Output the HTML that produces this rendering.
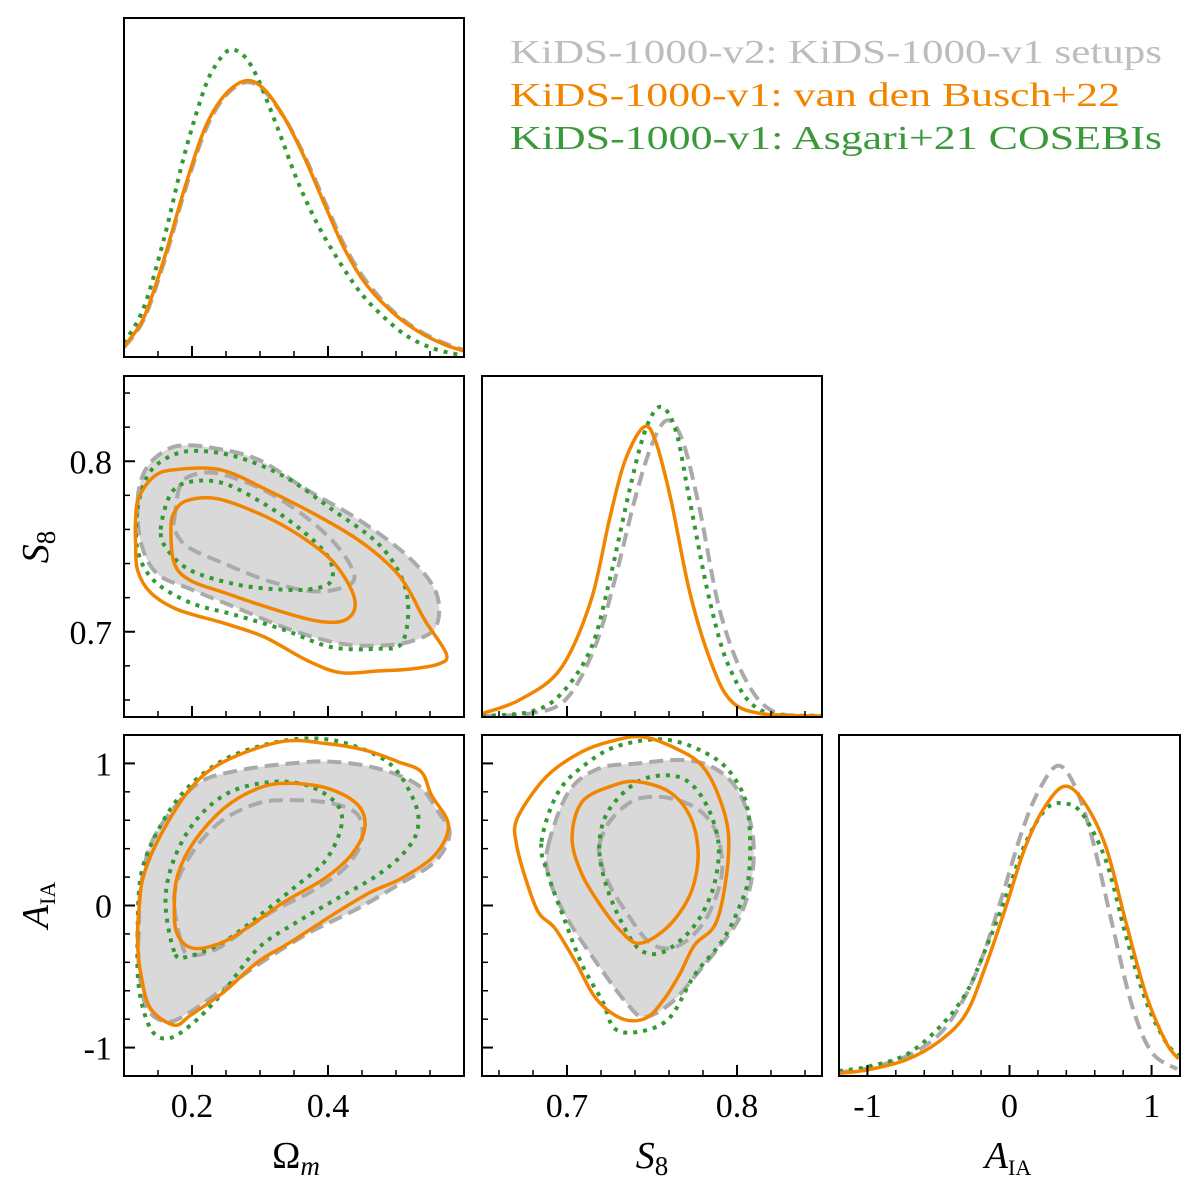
<!DOCTYPE html>
<html><head><meta charset="utf-8">
<style>
html,body{margin:0;padding:0;background:#fff;}
svg{display:block;font-family:"Liberation Serif","DejaVu Serif",serif;}
</style></head>
<body>
<svg id="fig" width="1200" height="1189" viewBox="0 0 1200 1189" xmlns="http://www.w3.org/2000/svg">
<g id="legend" font-size="34">
  <text x="510" y="63" fill="#bdbdbd" textLength="652" lengthAdjust="spacingAndGlyphs">KiDS-1000-v2: KiDS-1000-v1 setups</text>
  <text x="510" y="106" fill="#f28500" textLength="610" lengthAdjust="spacingAndGlyphs">KiDS-1000-v1: van den Busch+22</text>
  <text x="510" y="149" fill="#3a993a" textLength="652" lengthAdjust="spacingAndGlyphs">KiDS-1000-v1: Asgari+21 COSEBIs</text>
</g>
</svg>
<script>
// ---- axes ranges ----
const omRange=[0.1,0.6], s8Range=[0.65,0.85], aRange=[-1.2,1.2];
// ---- 1D marginals ----
const omX_or=[0.1,0.129,0.159,0.188,0.218,0.247,0.279,0.306,0.336,0.365,0.395,0.424,0.454,0.493,0.532,0.572,0.601];
const omP_or=[0.031,0.115,0.29,0.49,0.67,0.77,0.815,0.79,0.705,0.59,0.45,0.32,0.22,0.135,0.076,0.036,0.017];
const omP_gr=[0.028,0.11,0.28,0.48,0.66,0.765,0.81,0.785,0.705,0.595,0.46,0.33,0.23,0.14,0.08,0.04,0.02];
const omX_gn=[0.1,0.129,0.159,0.188,0.218,0.238,0.256,0.277,0.297,0.326,0.355,0.385,0.414,0.444,0.473,0.513,0.552,0.591];
const omP_gn=[0.041,0.145,0.35,0.59,0.79,0.87,0.906,0.887,0.82,0.675,0.52,0.39,0.29,0.20,0.135,0.066,0.027,0.007];
const s8X_or=[0.65,0.672,0.696,0.714,0.725,0.734,0.745,0.752,0.761,0.772,0.784,0.796,0.814,0.85];
const s8P_or=[0.01,0.05,0.14,0.34,0.58,0.75,0.85,0.81,0.64,0.37,0.17,0.05,0.01,0.003];
const s8X_gn=[0.65,0.678,0.696,0.714,0.725,0.737,0.746,0.755,0.764,0.772,0.784,0.796,0.814,0.85];
const s8P_gn=[0.003,0.015,0.065,0.20,0.40,0.67,0.84,0.91,0.84,0.64,0.34,0.14,0.02,0.003];
const s8X_gr=[0.65,0.678,0.699,0.716,0.728,0.740,0.750,0.759,0.768,0.778,0.790,0.805,0.822,0.85];
const s8P_gr=[0.003,0.01,0.05,0.20,0.40,0.64,0.80,0.87,0.81,0.61,0.31,0.11,0.015,0.003];
const aX_or=[-1.2,-1.0,-0.73,-0.50,-0.31,-0.17,-0.03,0.11,0.25,0.39,0.53,0.68,0.82,0.96,1.10,1.19];
const aP_or=[0.008,0.018,0.047,0.10,0.18,0.32,0.49,0.67,0.79,0.85,0.80,0.67,0.45,0.24,0.10,0.05];
const aX_gr=[-1.2,-1.0,-0.73,-0.50,-0.33,-0.19,-0.05,0.09,0.21,0.34,0.46,0.58,0.72,0.86,1.00,1.18];
const aP_gr=[0.011,0.022,0.057,0.12,0.22,0.35,0.53,0.72,0.84,0.91,0.85,0.70,0.45,0.21,0.07,0.02];
const aX_gn=[-1.2,-1.0,-0.73,-0.50,-0.31,-0.17,-0.03,0.11,0.25,0.37,0.51,0.68,0.82,0.96,1.10,1.19];
const aP_gn=[0.015,0.027,0.062,0.14,0.24,0.37,0.52,0.68,0.78,0.80,0.77,0.63,0.41,0.22,0.10,0.06];
// ---- 2D contours: Omega_m vs S8 ----
const c10_gr95=[[0.120,0.777],[0.129,0.793],[0.149,0.803],[0.179,0.809],[0.228,0.808],[0.297,0.801],[0.370,0.783],[0.444,0.766],[0.518,0.744],[0.559,0.723],[0.559,0.703],[0.527,0.695],[0.483,0.692],[0.419,0.693],[0.346,0.701],[0.272,0.713],[0.198,0.725],[0.149,0.734],[0.125,0.752]];
const c10_gr68=[[0.174,0.766],[0.184,0.787],[0.213,0.793],[0.247,0.792],[0.306,0.783],[0.365,0.768],[0.414,0.750],[0.439,0.732],[0.414,0.725],[0.370,0.724],[0.311,0.730],[0.247,0.740],[0.193,0.750],[0.174,0.760]];
const c10_or95=[[0.117,0.766],[0.122,0.779],[0.144,0.791],[0.174,0.795],[0.242,0.795],[0.311,0.783],[0.385,0.768],[0.444,0.754],[0.493,0.738],[0.518,0.725],[0.542,0.707],[0.574,0.687],[0.562,0.681],[0.518,0.678],[0.473,0.677],[0.419,0.676],[0.370,0.683],[0.306,0.697],[0.247,0.705],[0.179,0.713],[0.139,0.723],[0.120,0.736],[0.117,0.752]];
const c10_or68=[[0.169,0.760],[0.174,0.770],[0.193,0.777],[0.238,0.778],[0.306,0.768],[0.360,0.756],[0.405,0.742],[0.434,0.725],[0.439,0.713],[0.419,0.706],[0.375,0.707],[0.306,0.715],[0.247,0.723],[0.198,0.730],[0.174,0.740]];
const c10_gn95=[[0.120,0.772],[0.134,0.791],[0.159,0.801],[0.198,0.806],[0.262,0.803],[0.336,0.791],[0.405,0.772],[0.473,0.752],[0.508,0.732],[0.518,0.713],[0.508,0.693],[0.473,0.690],[0.405,0.691],[0.336,0.701],[0.262,0.710],[0.198,0.717],[0.144,0.730],[0.120,0.748]];
const c10_gn68=[[0.154,0.760],[0.169,0.781],[0.198,0.788],[0.247,0.787],[0.306,0.775],[0.360,0.760],[0.400,0.744],[0.405,0.730],[0.375,0.725],[0.321,0.725],[0.262,0.728],[0.198,0.736],[0.164,0.748]];
// ---- Omega_m vs A_IA ----
const c20_gr95=[[0.125,0.144],[0.139,0.425],[0.169,0.660],[0.213,0.871],[0.272,0.954],[0.346,1.000],[0.405,1.012],[0.473,0.965],[0.532,0.848],[0.562,0.660],[0.579,0.508],[0.557,0.308],[0.503,0.144],[0.444,-0.021],[0.375,-0.185],[0.311,-0.373],[0.247,-0.584],[0.198,-0.748],[0.164,-0.819],[0.134,-0.725],[0.122,-0.443],[0.122,-0.115]];
const c20_gr68=[[0.184,-0.255],[0.174,0.073],[0.198,0.355],[0.242,0.590],[0.297,0.719],[0.346,0.742],[0.405,0.719],[0.444,0.637],[0.449,0.449],[0.424,0.261],[0.375,0.097],[0.326,-0.021],[0.287,-0.138],[0.238,-0.302],[0.198,-0.349]];
const c20_or95=[[0.122,-0.021],[0.129,0.214],[0.154,0.496],[0.198,0.824],[0.247,1.012],[0.331,1.153],[0.395,1.141],[0.454,1.094],[0.503,1.012],[0.537,0.942],[0.552,0.777],[0.577,0.566],[0.557,0.355],[0.508,0.191],[0.464,0.097],[0.414,-0.044],[0.346,-0.255],[0.297,-0.396],[0.247,-0.608],[0.198,-0.772],[0.174,-0.842],[0.139,-0.725],[0.125,-0.490],[0.120,-0.255]];
const c20_or68=[[0.174,-0.021],[0.179,0.214],[0.203,0.449],[0.247,0.684],[0.297,0.824],[0.341,0.860],[0.400,0.824],[0.444,0.707],[0.454,0.543],[0.434,0.355],[0.395,0.191],[0.336,0.026],[0.287,-0.138],[0.247,-0.255],[0.203,-0.302],[0.179,-0.208]];
const c20_gn95=[[0.120,-0.208],[0.125,0.214],[0.149,0.519],[0.188,0.801],[0.242,1.012],[0.306,1.130],[0.375,1.177],[0.434,1.130],[0.493,0.989],[0.527,0.731],[0.532,0.543],[0.513,0.378],[0.473,0.214],[0.414,0.050],[0.355,-0.115],[0.297,-0.302],[0.242,-0.631],[0.198,-0.842],[0.164,-0.936],[0.139,-0.866],[0.122,-0.584]];
const c20_gn68=[[0.174,-0.326],[0.161,0.026],[0.174,0.331],[0.208,0.613],[0.257,0.801],[0.321,0.871],[0.375,0.836],[0.414,0.707],[0.419,0.543],[0.395,0.308],[0.355,0.144],[0.306,-0.044],[0.247,-0.255],[0.193,-0.361]];
// ---- S8 vs A_IA ----
const c21_gr95=[[0.689,0.425],[0.701,0.801],[0.719,0.965],[0.742,1.000],[0.768,1.024],[0.787,0.965],[0.801,0.801],[0.809,0.519],[0.809,0.214],[0.803,-0.044],[0.795,-0.208],[0.779,-0.443],[0.762,-0.678],[0.746,-0.784],[0.736,-0.701],[0.717,-0.396],[0.699,-0.068],[0.689,0.214]];
const c21_gr68=[[0.719,0.425],[0.725,0.590],[0.738,0.731],[0.752,0.766],[0.768,0.731],[0.781,0.637],[0.789,0.472],[0.791,0.214],[0.783,-0.068],[0.772,-0.232],[0.760,-0.302],[0.748,-0.255],[0.736,-0.068],[0.725,0.144],[0.720,0.308]];
const c21_or95=[[0.670,0.590],[0.679,0.777],[0.691,0.942],[0.709,1.083],[0.725,1.153],[0.744,1.188],[0.764,1.106],[0.779,0.989],[0.789,0.777],[0.795,0.496],[0.793,0.144],[0.787,-0.138],[0.775,-0.279],[0.766,-0.490],[0.756,-0.678],[0.746,-0.795],[0.732,-0.795],[0.717,-0.654],[0.705,-0.396],[0.693,-0.162],[0.683,-0.044],[0.675,0.214],[0.670,0.449]];
const c21_or68=[[0.703,0.472],[0.709,0.731],[0.728,0.848],[0.742,0.871],[0.760,0.801],[0.772,0.637],[0.777,0.402],[0.775,0.167],[0.768,-0.021],[0.756,-0.185],[0.742,-0.267],[0.732,-0.185],[0.721,-0.021],[0.709,0.214]];
const c21_gn95=[[0.685,0.449],[0.695,0.801],[0.713,1.012],[0.732,1.130],[0.760,1.165],[0.787,1.036],[0.801,0.848],[0.807,0.613],[0.807,0.214],[0.801,-0.021],[0.791,-0.255],[0.775,-0.490],[0.760,-0.795],[0.742,-0.889],[0.728,-0.866],[0.721,-0.678],[0.709,-0.420],[0.699,-0.115],[0.689,0.214]];
const c21_gn68=[[0.719,0.402],[0.723,0.637],[0.736,0.824],[0.750,0.907],[0.768,0.895],[0.781,0.731],[0.789,0.449],[0.787,0.167],[0.779,-0.068],[0.768,-0.232],[0.754,-0.338],[0.742,-0.302],[0.732,-0.115],[0.723,0.144]];

const NS='http://www.w3.org/2000/svg';
const svg=document.getElementById('fig');
const COL={or:'#f28500',gr:'#aaaaaa',gn:'#339933',fill:'#d9d9d9'};
function mk(tag,attrs,parent){const e=document.createElementNS(NS,tag);for(const k in attrs)e.setAttribute(k,attrs[k]);(parent||svg).appendChild(e);return e;}
function scale(d0,d1,p0,p1){return v=>p0+(v-d0)/(d1-d0)*(p1-p0);}
function smoothPath(pts,closed){
  const n=pts.length;let d='M'+pts[0][0].toFixed(1)+','+pts[0][1].toFixed(1);
  const get=i=>closed?pts[(i+n)%n]:pts[Math.max(0,Math.min(n-1,i))];
  const last=closed?n:n-1;
  for(let i=0;i<last;i++){const p0=get(i-1),p1=get(i),p2=get(i+1),p3=get(i+2);
    const c1=[p1[0]+(p2[0]-p0[0])/6,p1[1]+(p2[1]-p0[1])/6],c2=[p2[0]-(p3[0]-p1[0])/6,p2[1]-(p3[1]-p1[1])/6];
    d+='C'+c1[0].toFixed(1)+','+c1[1].toFixed(1)+' '+c2[0].toFixed(1)+','+c2[1].toFixed(1)+' '+p2[0].toFixed(1)+','+p2[1].toFixed(1);}
  return d+(closed?'Z':'');
}
const STY={or:{stroke:COL.or,'stroke-width':3.5},gr:{stroke:COL.gr,'stroke-width':4,'stroke-dasharray':'14 7'},gn:{stroke:COL.gn,'stroke-width':4,'stroke-dasharray':'4 6'}};
function panel(name,x0,y0,w,h,xr,yr){
  const g=mk('g',{});
  
  
  const cid='clip-'+name;
  const cp=mk('clipPath',{id:cid},g);mk('rect',{x:x0,y:y0,width:w,height:h},cp);
  const inner=mk('g',{'clip-path':'url(#'+cid+')'},g);
  return {g,inner,sx:scale(xr[0],xr[1],x0,x0+w),sy:scale(yr[0],yr[1],y0+h,y0),x0,y0,w,h};
}
function frame(p){const r=mk('rect',{x:p.x0,y:p.y0,width:p.w,height:p.h,fill:'none',stroke:'#000','stroke-width':2},p.g);
  }
function curve1d(p,xs,ys,key,name){
  const pts=xs.map((v,i)=>[p.sx(v),p.sy(ys[i])]);
  const e=mk('path',Object.assign({d:smoothPath(pts,false),fill:'none','stroke-linecap':'butt'},STY[key]),p.inner);
  
}
function contour(p,arr,key,name,fill){
  const pts=arr.map(q=>[p.sx(q[0]),p.sy(q[1])]);
  const d=smoothPath(pts,true);
  if(fill){const f=mk('path',{d,fill:COL.fill,stroke:'none'},p.inner);
    }
  return {d,key,name};
}
function drawLines(p,list){list.forEach(c=>{const e=mk('path',Object.assign({d:c.d,fill:'none'},STY[c.key]),p.inner);
  });}
function ticks(p,axis,vals,majors,labels,fs){
  vals.forEach(v=>{const maj=majors.includes(v);const L=maj?11:6;
    if(axis==='x'){const x=p.sx(v);const t=mk('line',{x1:x,x2:x,y1:p.y0+p.h,y2:p.y0+p.h-L,stroke:'#000','stroke-width':maj?2:1.5},p.g);
      }
    else{const y=p.sy(v);const t=mk('line',{x1:p.x0,x2:p.x0+L,y1:y,y2:y,stroke:'#000','stroke-width':maj?2:1.5},p.g);
      }
  });
  if(labels){majors.forEach((v,i)=>{let t;
    if(axis==='x'){t=mk('text',{x:p.sx(v),y:p.y0+p.h+41,'text-anchor':'middle','font-size':fs||34},p.g);}
    else{t=mk('text',{x:p.x0-12,y:p.sy(v)+12,'text-anchor':'end','font-size':fs||34},p.g);}
    t.textContent=labels[i];
    });}
}
function rng(a,b,s){const o=[];for(let v=a;v<=b+1e-9;v+=s)o.push(Math.round(v*1000)/1000);return o;}
const omT=rng(0.15,0.55,0.05), s8T=rng(0.66,0.84,0.02), aT=rng(-1.0,1.0,0.2);

const P00=panel('omega-m-marginal',124,18,340,339,omRange,[0,1]);
curve1d(P00,omX_or,omP_gr,'gr','gray-omega-marginal');
curve1d(P00,omX_gn,omP_gn,'gn','green-omega-marginal');
curve1d(P00,omX_or,omP_or,'or','orange-omega-marginal');
ticks(P00,'x',omT,[0.2,0.4]);frame(P00);

const P10=panel('omega-s8-contours',124,376,340,341,omRange,s8Range);
contour(P10,c10_gr95,'gr','gray-95',true);contour(P10,c10_gr68,'gr','gray-68',true);
drawLines(P10,[contour(P10,c10_gr95,'gr','gray-95-line'),contour(P10,c10_gr68,'gr','gray-68-line'),contour(P10,c10_gn95,'gn','green-95'),contour(P10,c10_gn68,'gn','green-68'),contour(P10,c10_or95,'or','orange-95'),contour(P10,c10_or68,'or','orange-68')]);
ticks(P10,'x',omT,[0.2,0.4]);ticks(P10,'y',s8T,[0.7,0.8],['0.7','0.8']);frame(P10);

const P11=panel('s8-marginal',482,376,340,341,s8Range,[0,1]);
curve1d(P11,s8X_gr,s8P_gr,'gr','gray-s8-marginal');
curve1d(P11,s8X_gn,s8P_gn,'gn','green-s8-marginal');
curve1d(P11,s8X_or,s8P_or,'or','orange-s8-marginal');
ticks(P11,'x',s8T,[0.7,0.8]);frame(P11);

const P20=panel('omega-aia-contours',124,735,340,341,omRange,aRange);
contour(P20,c20_gr95,'gr','gray-95',true);contour(P20,c20_gr68,'gr','gray-68',true);
drawLines(P20,[contour(P20,c20_gr95,'gr','gray-95-line'),contour(P20,c20_gr68,'gr','gray-68-line'),contour(P20,c20_gn95,'gn','green-95'),contour(P20,c20_gn68,'gn','green-68'),contour(P20,c20_or95,'or','orange-95'),contour(P20,c20_or68,'or','orange-68')]);
ticks(P20,'x',omT,[0.2,0.4],['0.2','0.4']);ticks(P20,'y',aT,[-1,0,1],['-1','0','1']);frame(P20);

const P21=panel('s8-aia-contours',482,735,340,341,s8Range,aRange);
contour(P21,c21_gr95,'gr','gray-95',true);contour(P21,c21_gr68,'gr','gray-68',true);
drawLines(P21,[contour(P21,c21_gr95,'gr','gray-95-line'),contour(P21,c21_gr68,'gr','gray-68-line'),contour(P21,c21_gn95,'gn','green-95'),contour(P21,c21_gn68,'gn','green-68'),contour(P21,c21_or95,'or','orange-95'),contour(P21,c21_or68,'or','orange-68')]);
ticks(P21,'x',s8T,[0.7,0.8],['0.7','0.8']);ticks(P21,'y',aT,[-1,0,1]);frame(P21);

const P22=panel('aia-marginal',839,735,341,341,aRange,[0,1]);
curve1d(P22,aX_gr,aP_gr,'gr','gray-aia-marginal');
curve1d(P22,aX_gn,aP_gn,'gn','green-aia-marginal');
curve1d(P22,aX_or,aP_or,'or','orange-aia-marginal');
ticks(P22,'x',aT,[-1,0,1],['-1','0','1']);frame(P22);

function title(name,x,y,html,rot){const t=mk('text',{x,y,'text-anchor':'middle','font-size':38,'font-style':'italic'});
  if(rot)t.setAttribute('transform','rotate(-90 '+x+' '+y+')');
  t.innerHTML=html;}
title('x-axis-title-omega-m',296,1168,'<tspan font-style="normal">\u03A9</tspan><tspan font-size="27" dy="7">m</tspan>');
title('x-axis-title-s8',652,1168,'S<tspan font-size="27" font-style="normal" dy="7">8</tspan>');
title('x-axis-title-aia',1008,1168,'A<tspan font-size="22" font-style="normal" dy="7">IA</tspan>');
title('y-axis-title-s8',48,547,'S<tspan font-size="27" font-style="normal" dy="7">8</tspan>',true);
title('y-axis-title-aia',48,905,'A<tspan font-size="22" font-style="normal" dy="7">IA</tspan>',true);
</script>
</body></html>
